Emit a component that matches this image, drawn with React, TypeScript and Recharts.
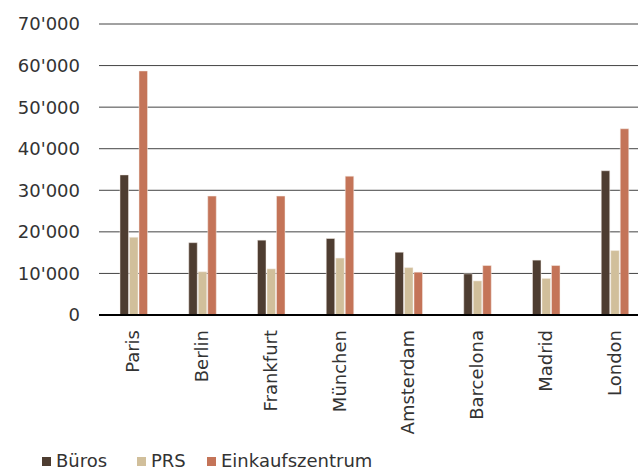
import { BarChart, Bar, XAxis, YAxis, CartesianGrid, Legend } from "recharts";

const cities = ["Paris", "Berlin", "Frankfurt", "München", "Amsterdam", "Barcelona", "Madrid", "London"];
const bueros = [33700, 17400, 18000, 18400, 15100, 9900, 13200, 34700];
const prs = [18700, 10400, 11100, 13700, 11400, 8200, 8800, 15500];
const einkauf = [58700, 28600, 28600, 33400, 10300, 11900, 11900, 44800];
const yTicks = [0, 10000, 20000, 30000, 40000, 50000, 60000, 70000];

const series = [
  { key: "bueros", name: "Büros", color: "#4E3D31", slot: 95 },
  { key: "prs", name: "PRS", color: "#D1BF9B", slot: 70 },
  { key: "einkauf", name: "Einkaufszentrum", color: "#C47458", slot: 170 },
];

const data = cities.map((city, i) => ({
  city,
  bueros: bueros[i],
  prs: prs[i],
  einkauf: einkauf[i],
}));

const font = "'DejaVu Sans', sans-serif";
const textColor = "#333";

const fmt = (v: number) => (v === 0 ? "0" : `${Math.round(v / 1000)}'000`);

function CityTick({ x, y, payload }: { x?: number; y?: number; payload?: { value: string } }) {
  return (
    <text
      x={0}
      y={0}
      transform={`translate(${x! + 6},${y! + 7}) rotate(-90)`}
      textAnchor="end"
      fill={textColor}
      fontSize={18}
      fontFamily={font}
    >
      {payload?.value}
    </text>
  );
}

function LegendBox() {
  return (
    <div style={{ display: "flex", alignItems: "center", fontFamily: font, fontSize: 18, color: textColor, lineHeight: "20px" }}>
      {series.map((s) => (
        <span key={s.key} style={{ display: "flex", alignItems: "center", width: s.slot }}>
          <span style={{ width: 9, height: 9, background: s.color, marginRight: 5, display: "inline-block" }} />
          {s.name}
        </span>
      ))}
    </div>
  );
}

export default function App() {
  // the plot runs a little past the right edge of the picture, as in the reference
  return (
    <div style={{ position: "absolute", left: 0, top: 0, width: 638, height: 472, background: "#fff", overflow: "hidden" }}>
      <BarChart
        width={649}
        height={472}
        data={data}
        margin={{ top: 24, right: 0, left: 0, bottom: 20 }}
        barSize={8.5}
        barGap={1}
      >
        <CartesianGrid vertical={false} stroke="#444" strokeWidth={1} />
        <XAxis
          dataKey="city"
          tick={<CityTick />}
          tickLine={false}
          axisLine={{ stroke: "#000", strokeWidth: 2 }}
          height={117}
          interval={0}
        />
        <YAxis
          domain={[0, 70000]}
          ticks={yTicks}
          tickFormatter={fmt}
          width={99}
          tickLine={false}
          axisLine={false}
          tickSize={0}
          tickMargin={19}
          tick={{ fill: textColor, fontSize: 18, fontFamily: font }}
        />
        <Legend
          content={<LegendBox />}
          wrapperStyle={{ position: "absolute", left: 42, top: 451, width: 500 }}
        />
        {series.map((s) => (
          <Bar key={s.key} dataKey={s.key} name={s.name} fill={s.color} stroke="#f4ece6" strokeWidth={0.5} isAnimationActive={false} />
        ))}
      </BarChart>
    </div>
  );
}
